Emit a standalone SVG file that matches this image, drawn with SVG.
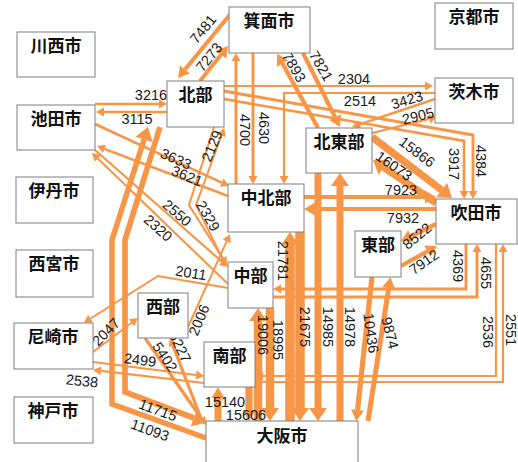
<svg xmlns="http://www.w3.org/2000/svg" width="518" height="462" viewBox="0 0 518 462">
<style>
.c{fill:none;stroke:#F79646;stroke-linejoin:miter}
.b{fill:#fff;stroke:#7f7f7f;stroke-width:1}
.n{font-family:"Noto Sans CJK JP","Noto Sans",sans-serif;font-size:17px;font-weight:bold;fill:#111;text-anchor:middle}
.v{font-family:"Liberation Sans",Arial,sans-serif;font-size:14.5px;fill:#1a1a1a;text-anchor:middle;dominant-baseline:central}
</style>
<defs>
<marker id="aS" markerUnits="userSpaceOnUse" viewBox="0 -5 10 10" markerWidth="10" markerHeight="10" refX="0" refY="0" orient="auto" overflow="visible"><path d="M0,-4.5L8,0L0,4.5z" fill="#F79646"/></marker>
<marker id="aM" markerUnits="userSpaceOnUse" viewBox="0 -7 12 14" markerWidth="12" markerHeight="14" refX="0" refY="0" orient="auto" overflow="visible"><path d="M0,-6.5L11,0L0,6.5z" fill="#F79646"/></marker>
<marker id="aL" markerUnits="userSpaceOnUse" viewBox="0 -10 14 20" markerWidth="14" markerHeight="20" refX="0" refY="0" orient="auto" overflow="visible"><path d="M0,-9L13,0L0,9z" fill="#F79646"/></marker>
</defs>
<rect width="518" height="462" fill="#fff"/>
<g id="connectors">
<path class="c" stroke-width="4.1" d="M232,12L185,69.5" marker-end="url(#aM)"/>
<path class="c" stroke-width="4" d="M200,81L221.1,54.6" marker-end="url(#aM)"/>
<path class="c" stroke-width="2.4" d="M95,104L159,104" marker-end="url(#aS)"/>
<path class="c" stroke-width="2.4" d="M167,112L104,112" marker-end="url(#aS)"/>
<path class="c" stroke-width="3" d="M236,184L236,61" marker-end="url(#aS)"/>
<path class="c" stroke-width="3" d="M253,53L253,176" marker-end="url(#aS)"/>
<path class="c" stroke-width="4.2" d="M318,128L282.5,63.5" marker-end="url(#aM)"/>
<path class="c" stroke-width="4.2" d="M303,53L335.1,117.2" marker-end="url(#aM)"/>
<path class="c" stroke-width="2.1" d="M224,86L425,86" marker-end="url(#aS)"/>
<path class="c" stroke-width="2.2" d="M435,93L284,93L284,176" marker-end="url(#aS)"/>
<path class="c" stroke-width="2.5" d="M435,99L359.6,124.4" marker-end="url(#aS)"/>
<path class="c" stroke-width="2.3" d="M372,133L429.2,118.9" marker-end="url(#aS)"/>
<path class="c" stroke-width="2.9" d="M224,91L473,135L473,191" marker-end="url(#aS)"/>
<path class="c" stroke-width="2.7" d="M224,99L464,141L464,191" marker-end="url(#aS)"/>
<path class="c" stroke-width="7.3" d="M372,137L441.7,190.1" marker-end="url(#aL)"/>
<path class="c" stroke-width="7.4" d="M436,203L383.7,167.3" marker-end="url(#aL)"/>
<path class="c" stroke-width="4.2" d="M304,197L425,197" marker-end="url(#aM)"/>
<path class="c" stroke-width="4.2" d="M436,209L315,209" marker-end="url(#aM)"/>
<path class="c" stroke-width="4.5" d="M436,224L410.9,236.2" marker-end="url(#aM)"/>
<path class="c" stroke-width="4.2" d="M401,266L427.4,251.3" marker-end="url(#aM)"/>
<path class="c" stroke-width="2.9" d="M466,244L466,289L281,289" marker-end="url(#aS)"/>
<path class="c" stroke-width="3" d="M273,297L477,297L477,252" marker-end="url(#aS)"/>
<path class="c" stroke-width="2.2" d="M496,244L496,376L263,376" marker-end="url(#aS)"/>
<path class="c" stroke-width="2.2" d="M255,382L503,382L503,252" marker-end="url(#aS)"/>
<path class="c" stroke-width="2.2" d="M93,362L196.1,375" marker-end="url(#aS)"/>
<path class="c" stroke-width="2.2" d="M204,383L100.9,370.9" marker-end="url(#aS)"/>
<path class="c" stroke-width="2" d="M93,352L131.6,322.8" marker-end="url(#aS)"/>
<path class="c" stroke-width="2" d="M228,288L158,276L90.6,318.5" marker-end="url(#aS)"/>
<path class="c" stroke-width="2" d="M183,338L226.7,241.3" marker-end="url(#aS)"/>
<path class="c" stroke-width="2.2" d="M95,150L222,261.7" marker-end="url(#aS)"/>
<path class="c" stroke-width="2.1" d="M228,284L97.8,158.5" marker-end="url(#aS)"/>
<path class="c" stroke-width="2.6" d="M95,124L221.7,182.6" marker-end="url(#aS)"/>
<path class="c" stroke-width="2.6" d="M228,196L104.5,148.9" marker-end="url(#aS)"/>
<path class="c" stroke-width="2" d="M224,262L196,205L221.5,135.5" marker-end="url(#aS)"/>
<path class="c" stroke-width="2.1" d="M214,127L189,205L222.8,258.4" marker-end="url(#aS)"/>
<path class="c" stroke-width="5.7" d="M160,127L125,240L125,392L193.9,418" marker-end="url(#aL)"/>
<path class="c" stroke-width="5.5" d="M206,438L112,404L112,240L144.1,139.4" marker-end="url(#aL)"/>
<path class="c" stroke-width="3.2" d="M202,421L172.9,345.5" marker-end="url(#aS)"/>
<path class="c" stroke-width="3.3" d="M145,338L201.4,418.5" marker-end="url(#aS)"/>
<path class="c" stroke-width="7" d="M218,421L218,398" marker-end="url(#aM)"/>
<path class="c" stroke-width="7.2" d="M249,387L249,410" marker-end="url(#aM)"/>
<path class="c" stroke-width="8.5" d="M258,421L258,321" marker-end="url(#aL)"/>
<path class="c" stroke-width="8.5" d="M270,308L270,408" marker-end="url(#aL)"/>
<path class="c" stroke-width="9.6" d="M290,421L290,245" marker-end="url(#aL)"/>
<path class="c" stroke-width="9.5" d="M300,232L300,408" marker-end="url(#aL)"/>
<path class="c" stroke-width="7" d="M318,173L318,408" marker-end="url(#aL)"/>
<path class="c" stroke-width="7" d="M340,421L340,186" marker-end="url(#aL)"/>
<path class="c" stroke-width="5.2" d="M372,277L357.5,410" marker-end="url(#aM)"/>
<path class="c" stroke-width="5" d="M368,421L388.7,288" marker-end="url(#aM)"/>
</g>
<g id="labels">
<text class="v" transform="translate(203,29) rotate(-51)">7481</text>
<text class="v" transform="translate(209,57) rotate(-51)">7273</text>
<text class="v" x="151" y="95">3216</text>
<text class="v" x="137" y="119">3115</text>
<text class="v" transform="translate(245,130) rotate(90)">4700</text>
<text class="v" transform="translate(264,128) rotate(90)">4630</text>
<text class="v" transform="translate(294,67) rotate(60)">7893</text>
<text class="v" transform="translate(321,66) rotate(60)">7821</text>
<text class="v" x="354" y="79">2304</text>
<text class="v" x="360" y="101">2514</text>
<text class="v" transform="translate(407,100) rotate(-17)">3423</text>
<text class="v" transform="translate(418,116) rotate(-14)">2905</text>
<text class="v" transform="translate(417,152) rotate(37)">15866</text>
<text class="v" transform="translate(394,166) rotate(35)">16073</text>
<text class="v" transform="translate(454,164) rotate(90)">3917</text>
<text class="v" transform="translate(481,161) rotate(90)">4384</text>
<text class="v" x="401" y="190">7923</text>
<text class="v" x="403" y="218">7932</text>
<text class="v" transform="translate(417,236) rotate(-40)">8522</text>
<text class="v" transform="translate(424,262) rotate(-35)">7912</text>
<text class="v" transform="translate(458,266) rotate(90)">4369</text>
<text class="v" transform="translate(486,273) rotate(90)">4655</text>
<text class="v" transform="translate(488,332) rotate(90)">2536</text>
<text class="v" transform="translate(511,330) rotate(90)">2551</text>
<text class="v" transform="translate(140,360) rotate(7)">2499</text>
<text class="v" transform="translate(82,381) rotate(6)">2538</text>
<text class="v" transform="translate(106,332) rotate(-45)">2047</text>
<text class="v" transform="translate(191,273) rotate(9)">2011</text>
<text class="v" transform="translate(199,320) rotate(-68)">2006</text>
<text class="v" transform="translate(177,213) rotate(41)">2550</text>
<text class="v" transform="translate(158,228) rotate(42)">2320</text>
<text class="v" transform="translate(176,159) rotate(24)">3633</text>
<text class="v" transform="translate(187,176) rotate(22)">3621</text>
<text class="v" transform="translate(212,146) rotate(-68)">2129</text>
<text class="v" transform="translate(208,216) rotate(60)">2329</text>
<text class="v" transform="translate(158,410) rotate(20)">11715</text>
<text class="v" transform="translate(150,430) rotate(20)">11093</text>
<text class="v" transform="translate(180,347) rotate(64)">5227</text>
<text class="v" transform="translate(165,357) rotate(56)">5402</text>
<text class="v" x="225" y="402">15140</text>
<text class="v" x="246" y="415">15606</text>
<text class="v" transform="translate(263,335) rotate(90)">19006</text>
<text class="v" transform="translate(278,340) rotate(90)">18995</text>
<text class="v" transform="translate(283,261) rotate(90)">21781</text>
<text class="v" transform="translate(305,327) rotate(90)">21675</text>
<text class="v" transform="translate(328,327) rotate(90)">14985</text>
<text class="v" transform="translate(350,327) rotate(90)">14978</text>
<text class="v" transform="translate(371,333) rotate(82)">10436</text>
<text class="v" transform="translate(390,333) rotate(76)">9874</text>
</g>
<g id="n-kawanishi"><rect class="b" x="17" y="32" width="78" height="45"/><text class="n" x="56" y="52">川西市</text></g>
<g id="n-ikeda"><rect class="b" x="17" y="105" width="78" height="45"/><text class="n" x="56" y="125">池田市</text></g>
<g id="n-itami"><rect class="b" x="16" y="177" width="77" height="46"/><text class="n" x="54" y="197">伊丹市</text></g>
<g id="n-nishinomiya"><rect class="b" x="16" y="250" width="77" height="47"/><text class="n" x="54" y="270">西宮市</text></g>
<g id="n-amagasaki"><rect class="b" x="14" y="323" width="79" height="46"/><text class="n" x="53" y="343">尼崎市</text></g>
<g id="n-kobe"><rect class="b" x="14" y="397" width="79" height="46"/><text class="n" x="53" y="417">神戸市</text></g>
<g id="n-minoh"><rect class="b" x="229" y="7" width="81" height="46"/><text class="n" x="269" y="27">箕面市</text></g>
<g id="n-kyoto"><rect class="b" x="435" y="3" width="78" height="46"/><text class="n" x="474" y="23">京都市</text></g>
<g id="n-ibaraki"><rect class="b" x="435" y="78" width="78" height="45"/><text class="n" x="474" y="98">茨木市</text></g>
<g id="n-hokubu"><rect class="b" x="167" y="81" width="57" height="46"/><text class="n" x="195.5" y="101">北部</text></g>
<g id="n-hokutobu"><rect class="b" x="306" y="128" width="66" height="45"/><text class="n" x="339" y="148">北東部</text></g>
<g id="n-chuhokubu"><rect class="b" x="228" y="184" width="76" height="48"/><text class="n" x="266" y="204">中北部</text></g>
<g id="n-suita"><rect class="b" x="436" y="199" width="81" height="45"/><text class="n" x="476" y="219">吹田市</text></g>
<g id="n-tobu"><rect class="b" x="355" y="231" width="46" height="46"/><text class="n" x="378" y="251">東部</text></g>
<g id="n-chubu"><rect class="b" x="228" y="262" width="45" height="46"/><text class="n" x="250.5" y="282">中部</text></g>
<g id="n-seibu"><rect class="b" x="138" y="293" width="50" height="45"/><text class="n" x="163" y="313">西部</text></g>
<g id="n-nanbu"><rect class="b" x="204" y="342" width="51" height="45"/><text class="n" x="229.5" y="362">南部</text></g>
<g id="n-osaka"><rect class="b" x="206" y="421" width="152" height="50"/><text class="n" x="282" y="442">大阪市</text></g>
</svg>
